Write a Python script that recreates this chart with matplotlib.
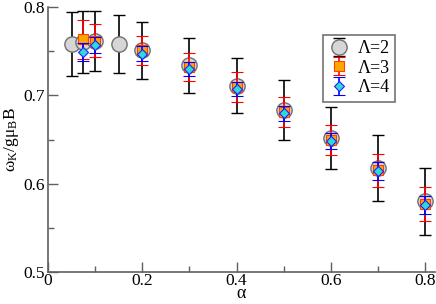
import matplotlib
matplotlib.use("Agg")
import matplotlib.pyplot as plt
from matplotlib.ticker import MultipleLocator

plt.rcParams['font.family'] = ['Liberation Serif', 'DejaVu Serif']
plt.rcParams['mathtext.fontset'] = 'stix'

# Lambda = 2
a2 = [0.05, 0.075, 0.1, 0.15, 0.2, 0.3, 0.4, 0.5, 0.6, 0.7, 0.8]
w2 = [0.758, 0.760, 0.761, 0.758, 0.751, 0.734, 0.711, 0.683, 0.652, 0.618, 0.580]
e2 = [0.036, 0.035, 0.034, 0.033, 0.032, 0.031, 0.031, 0.034, 0.035, 0.037, 0.038]
# Lambda = 3
a3 = [0.075, 0.1, 0.2, 0.3, 0.4, 0.5, 0.6, 0.7, 0.8]
w3 = [0.7635, 0.762, 0.751, 0.732, 0.709, 0.681, 0.650, 0.615, 0.577]
e3 = [0.022, 0.019, 0.0165, 0.016, 0.017, 0.017, 0.017, 0.019, 0.019]
# Lambda = 4
a4 = [0.075, 0.1, 0.2, 0.3, 0.4, 0.5, 0.6, 0.7, 0.8]
w4 = [0.749, 0.757, 0.747, 0.730, 0.7075, 0.6795, 0.6487, 0.6143, 0.576]
e4 = [0.010, 0.009, 0.0085, 0.008, 0.008, 0.009, 0.009, 0.010, 0.010]

labels = ['Λ=2', 'Λ=3', 'Λ=4']

fig = plt.figure(figsize=(4.36, 3.04), dpi=100)
ax = fig.add_axes([0.110, 0.105, 0.887, 0.872])

ax.errorbar(a2, w2, yerr=e2, fmt='o', ms=11, mfc='#d6d6d6', mec='#707070', mew=1.0,
            ecolor='black', elinewidth=1.2, capsize=4, capthick=1.2, label=labels[0], zorder=2)
ax.errorbar(a3, w3, yerr=e3, fmt='s', ms=7, mfc='#ffa500', mec='#ff4000', mew=0.8,
            ecolor='red', elinewidth=1.2, capsize=4, capthick=1.2, label=labels[1], zorder=3)
ax.errorbar(a4, w4, yerr=e4, fmt='D', ms=5, mfc='#30d8d8', mec='#2020ff', mew=0.8,
            ecolor='blue', elinewidth=1.2, capsize=4, capthick=1.2, label=labels[2], zorder=4)

ax.set_xlim(0, 0.82)
ax.set_ylim(0.5, 0.8)
ax.xaxis.set_major_locator(MultipleLocator(0.2))
ax.xaxis.set_minor_locator(MultipleLocator(0.1))
ax.yaxis.set_major_locator(MultipleLocator(0.1))
ax.yaxis.set_minor_locator(MultipleLocator(0.05))
ax.xaxis.set_major_formatter(plt.FuncFormatter(lambda v, p: ('%g' % round(v, 2))))
ax.yaxis.set_major_formatter(plt.FuncFormatter(lambda v, p: ('%g' % round(v, 2))))
for s in ['top', 'right']:
    ax.spines[s].set_visible(False)
for s in ['left', 'bottom']:
    ax.spines[s].set_color('#606060')
    ax.spines[s].set_linewidth(1.2)
ax.tick_params(which='both', direction='in', color='#606060', width=1.0, labelsize=12.5)
ax.tick_params(which='major', length=7)
ax.tick_params(which='minor', length=4)
ax.tick_params(axis='x', pad=0.5)
ax.tick_params(axis='y', pad=2)

ax.set_xlabel('α', fontsize=13, labelpad=-2.5)
ax.set_ylabel(r'$\mathregular{\omega_K/g\mu_B B}$', fontsize=12.5, labelpad=0)
ax.yaxis.set_label_coords(-0.07, 0.5)

leg = ax.legend(loc='upper left', bbox_to_anchor=(0.688, 0.93), fontsize=13,
                frameon=True, fancybox=False, edgecolor='#505050', handletextpad=0.4,
                borderpad=0.3, labelspacing=0.15, handlelength=1.2, numpoints=1)
leg.get_frame().set_linewidth(1.2)

fig.savefig('out.png', dpi=100)
